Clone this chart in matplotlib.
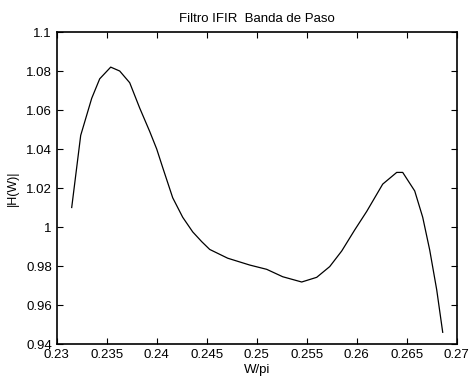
import matplotlib
import matplotlib.pyplot as plt

matplotlib.rcParams['font.family'] = ['Liberation Sans', 'DejaVu Sans']

# W/pi values and |H(W)|
w = [0.2315, 0.2324, 0.2335, 0.2343, 0.2354, 0.2363, 0.2373, 0.2383,
     0.2393, 0.2400, 0.2406, 0.2416, 0.2426, 0.2436, 0.2445, 0.2453,
     0.2471, 0.2493, 0.2510, 0.2526, 0.2545, 0.2560, 0.2573, 0.2585,
     0.2598, 0.2610, 0.2626, 0.2640, 0.2646, 0.2658, 0.2666, 0.2673,
     0.2680, 0.2686]
h = [1.010, 1.047, 1.066, 1.076, 1.082, 1.080, 1.074, 1.061,
     1.049, 1.040, 1.0305, 1.015, 1.0050, 0.9975, 0.9925, 0.9885,
     0.9840, 0.9805, 0.9783, 0.9745, 0.9718, 0.9742, 0.9797, 0.9877,
     0.9985, 1.008, 1.022, 1.028, 1.028, 1.0185, 1.0050, 0.9882,
     0.9678, 0.946]

xticks = [0.23, 0.235, 0.24, 0.245, 0.25, 0.255, 0.26, 0.265, 0.27]
xlabels = ["0.23", "0.235", "0.24", "0.245", "0.25", "0.255", "0.26", "0.265", "0.27"]
yticks = [0.94, 0.96, 0.98, 1.0, 1.02, 1.04, 1.06, 1.08, 1.1]
ylabels = ["0.94", "0.96", "0.98", "1", "1.02", "1.04", "1.06", "1.08", "1.1"]

fig = plt.figure(figsize=(4.69, 3.83), dpi=100)
ax = fig.add_axes([0.1209, 0.1018, 0.8529, 0.8146])
ax.plot(w, h, color="black", linewidth=0.9)

ax.set_xlim(0.23, 0.27)
ax.set_ylim(0.94, 1.1)
ax.set_xticks(xticks)
ax.set_xticklabels(xlabels)
ax.set_yticks(yticks)
ax.set_yticklabels(ylabels)
ax.tick_params(direction="in", top=True, right=True, length=4, width=0.8,
               labelsize=9.5)
ax.tick_params(axis="x", pad=3.5)
ax.tick_params(axis="y", pad=3.5)
for s in ax.spines.values():
    s.set_linewidth(1.2)

ax.set_title("Filtro IFIR  Banda de Paso", fontsize=9.5, pad=7)
ax.set_xlabel("W/pi", fontsize=9.5, labelpad=2)
ax.set_ylabel("|H(W)|", fontsize=9, labelpad=5)

fig.savefig("out.png", dpi=100, facecolor="white")
